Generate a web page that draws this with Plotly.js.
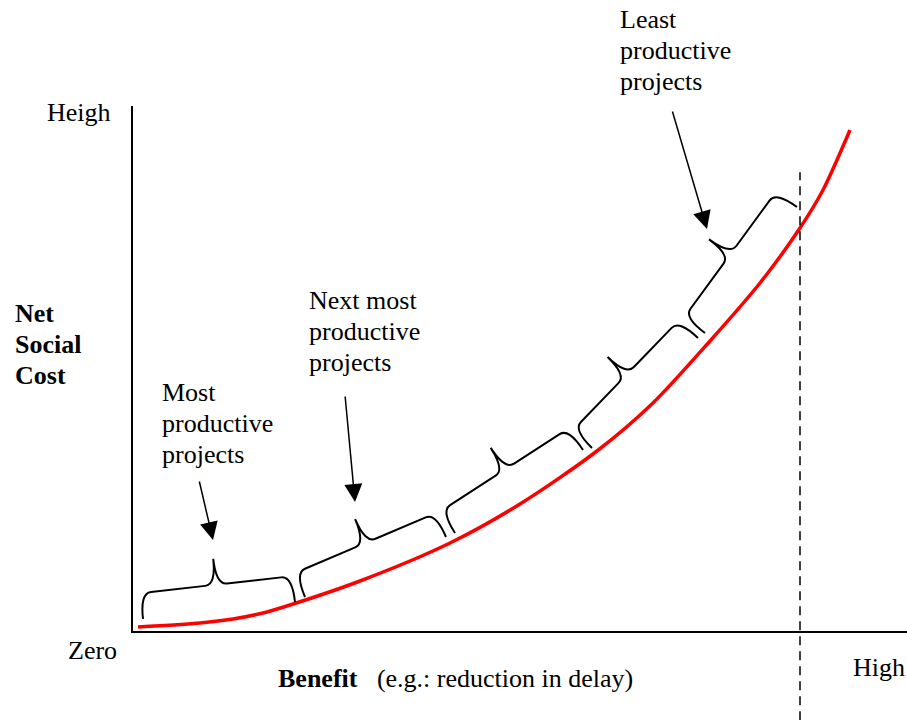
<!DOCTYPE html>
<html>
    <head>
        <meta charset="utf-8">
        <title>Net Social Cost vs Benefit</title>
        <script src="https://cdn.plot.ly/plotly-3.0.1.min.js"></script>
        <style type="text/css">
            body {margin:0; background:#fff}
            #chart {width:907px; height:720px}
        </style>
    </head>
    <body>
        <div id="chart"></div>
        <script>
            // cost curve (benefit on x, net social cost on y), units ~ 1px
            var benefit = [5, 67, 100, 130, 157, 227, 317, 387, 464, 520, 577, 627, 667, 690, 717];
            var cost = [4, 8, 12, 18, 26, 50, 88, 127, 180, 228, 290, 348, 403, 441, 501];

            // project groups: brace start / end points along the curve
            var braceFromX = [10, 172, 322, 459, 572];
            var braceFromY = [12, 34, 98, 183, 298];
            var braceToX = [162, 313, 450, 565, 664];
            var braceToY = [29, 94, 181, 293, 424];

            // arrow labels (one entry per line of text)
            var labelLines = [
                ['Most', 'productive', 'projects'],
                ['Next most', 'productive', 'projects'],
                ['Least', 'productive', 'projects']
            ];
            var labelX = [28, 175, 486];
            var labelY = [239, 331, 611];
            var arrowFromX = [66, 212, 539];
            var arrowFromY = [151, 236, 521];
            var arrowToX = [80, 222, 574];
            var arrowToY = [91, 129, 402];

            var limitX = 667;
            var xMax = 774, yMax = 525;
            var lineGap = 31;

            var serif = 'Liberation Serif, Times New Roman, serif';

            function bracePath(x0, y0, x1, y1) {
                var dx = x1 - x0, dy = y1 - y0;
                var L = Math.sqrt(dx * dx + dy * dy);
                var tx = dx / L, ty = dy / L;
                var nx = -ty, ny = tx;
                var s = 26, d = 52, r = 11;
                function p(u, v) {
                    return (x0 + u * tx + v * nx).toFixed(2) + ',' + (y0 + u * ty + v * ny).toFixed(2);
                }
                var h = L / 2;
                return 'M' + p(0, 0) +
                    ' Q' + p(0, s) + ' ' + p(r, s) +
                    ' L' + p(h - r, s) +
                    ' Q' + p(h, s) + ' ' + p(h, d) +
                    ' Q' + p(h, s) + ' ' + p(h + r, s) +
                    ' L' + p(L - r, s) +
                    ' Q' + p(L, s) + ' ' + p(L, 0);
            }

            var shapes = [];
            for (var i = 0; i < braceFromX.length; i++) {
                shapes.push({
                    type: 'path', xref: 'x', yref: 'y',
                    path: bracePath(braceFromX[i], braceFromY[i], braceToX[i], braceToY[i]),
                    line: {color: 'black', width: 2}
                });
            }
            shapes.push({
                type: 'line', xref: 'x', yref: 'paper',
                x0: limitX, x1: limitX, y0: -0.17, y1: 0.874,
                line: {color: 'black', width: 1.5, dash: '9px,6px'}
            });

            var annotations = [];

            // texts go on paper coordinates so they show outside the plot area too
            function addText(x, y, text, xanchor) {
                annotations.push({
                    x: x / xMax, y: y / yMax, xref: 'paper', yref: 'paper', text: text,
                    showarrow: false, align: 'left', xanchor: xanchor, yanchor: 'middle',
                    borderpad: 0, font: {family: serif, size: 26, color: 'black'}
                });
            }

            for (var i = 0; i < labelLines.length; i++) {
                for (var k = 0; k < labelLines[i].length; k++) {
                    addText(labelX[i], labelY[i] - k * lineGap, labelLines[i][k], 'left');
                }
                annotations.push({
                    x: arrowToX[i], y: arrowToY[i], xref: 'x', yref: 'y',
                    ax: arrowFromX[i], ay: arrowFromY[i], axref: 'x', ayref: 'y',
                    text: '', showarrow: true, arrowhead: 2, arrowsize: 2.4,
                    arrowwidth: 1.5, arrowcolor: 'black', standoff: 0
                });
            }

            var costLines = ['Net', 'Social', 'Cost'];
            for (var k = 0; k < costLines.length; k++) {
                addText(-119, 318 - k * lineGap, '<b>' + costLines[k] + '</b>', 'left');
            }
            addText(-21, 518, 'Heigh', 'right');
            addText(-15, -19, 'Zero', 'right');
            addText(719, -36, 'High', 'left');
            addText(144, -47, '<b>Benefit</b>\u00a0\u00a0\u00a0(e.g.: reduction in delay)', 'left');

            var data = [{
                type: 'scatter', mode: 'lines', x: benefit, y: cost,
                line: {color: '#ff0000', width: 3.5, shape: 'spline', smoothing: 0.8},
                hoverinfo: 'skip'
            }];

            var layout = {
                width: 907, height: 720,
                margin: {l: 133, r: 0, t: 106, b: 89},
                paper_bgcolor: 'white', plot_bgcolor: 'white',
                showlegend: false,
                xaxis: {range: [0, xMax], showline: true, linecolor: 'black', linewidth: 2,
                        showgrid: false, zeroline: false, showticklabels: false, ticks: ''},
                yaxis: {range: [0, yMax], showline: true, linecolor: 'black', linewidth: 2,
                        showgrid: false, zeroline: false, showticklabels: false, ticks: ''},
                shapes: shapes,
                annotations: annotations
            };

            Plotly.newPlot('chart', data, layout, {staticPlot: true});
        </script>
    </body>
</html>
